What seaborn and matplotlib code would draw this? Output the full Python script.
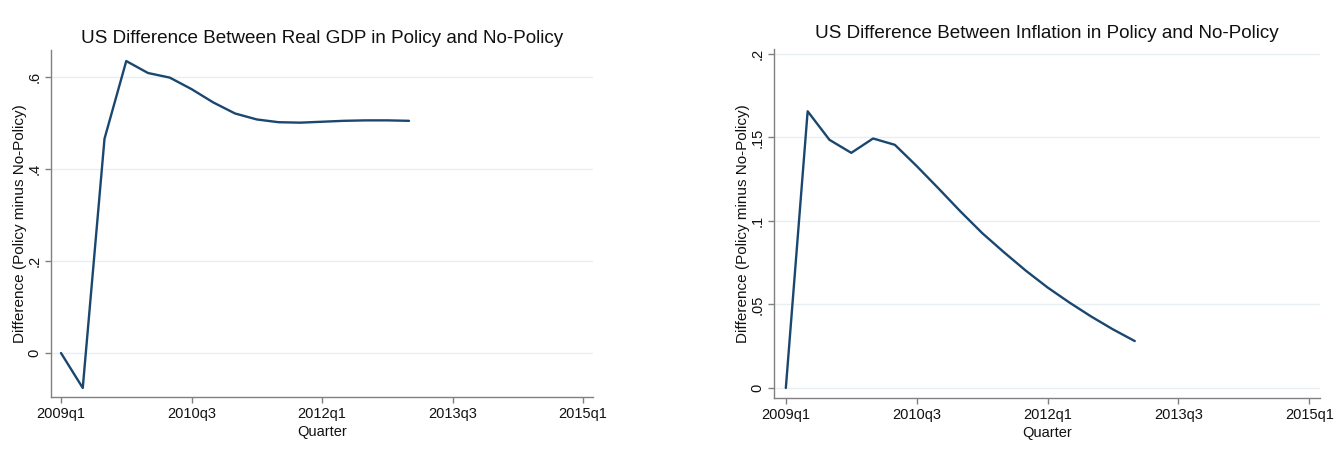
import numpy as np
import pandas as pd
import matplotlib
matplotlib.use("Agg")
import matplotlib.pyplot as plt
import seaborn as sns

# ---- data ----
quarter_index = list(range(17))  # 2009q1 .. 2013q1
gdp_diff = [0.0, -0.076, 0.466, 0.635, 0.609, 0.599, 0.574, 0.545, 0.521,
            0.508, 0.502, 0.501, 0.503, 0.505, 0.506, 0.506, 0.505]
infl_diff = [0.0, 0.1657, 0.1486, 0.1408, 0.1494, 0.1456, 0.1329, 0.1195, 0.1058,
             0.0928, 0.0813, 0.0703, 0.0602, 0.0512, 0.0428, 0.0351, 0.0281]
x_tick_pos = [0, 6, 12, 18, 24]
x_tick_labels = ["2009q1", "2010q3", "2012q1", "2013q3", "2015q1"]
gdp_yticks = [0, 0.2, 0.4, 0.6]
gdp_yticklabels = ["0", ".2", ".4", ".6"]
infl_yticks = [0, 0.05, 0.1, 0.15, 0.2]
infl_yticklabels = ["0", ".05", ".1", ".15", ".2"]
titles = ["US Difference Between Real GDP in Policy and No-Policy",
          "US Difference Between Inflation in Policy and No-Policy"]
ylabel = "Difference (Policy minus No-Policy)"
xlabel = "Quarter"

sns.set_style("white")
plt.rcParams['font.family'] = ['Liberation Sans', 'DejaVu Sans']
plt.rcParams['text.color'] = '#111111'
plt.rcParams['axes.labelcolor'] = '#111111'
plt.rcParams['xtick.color'] = '#111111'
plt.rcParams['ytick.color'] = '#111111'

fig = plt.figure(figsize=(13.42, 4.49), dpi=100)
ax1 = fig.add_axes([0.038, 0.1158, 0.4039, 0.7728])
ax2 = fig.add_axes([0.5768, 0.1136, 0.4069, 0.7773])

line_color = "#1a476f"
grid_color = "#e6eff1"
axis_color = "#808080"

configs = [
    (ax1, gdp_diff, gdp_yticks, gdp_yticklabels, (-0.0957, 0.659), (-0.46, 24.46), titles[0], 5),
    (ax2, infl_diff, infl_yticks, infl_yticklabels, (-0.006, 0.203), (-0.54, 24.5), titles[1], 8),
]

for ax, vals, yt, ytl, ylim, xlim, title, tpad in configs:
    df = pd.DataFrame({"q": quarter_index, "v": vals})
    for y in yt:
        ax.axhline(y, color=grid_color, lw=1.0, zorder=0)
    sns.lineplot(data=df, x="q", y="v", ax=ax, color=line_color, lw=1.7, zorder=3)
    ax.set_xlim(*xlim)
    ax.set_ylim(*ylim)
    ax.set_xticks(x_tick_pos)
    ax.set_xticklabels(x_tick_labels, fontsize=10.5)
    ax.set_yticks(yt)
    ax.set_yticklabels(ytl, fontsize=10.5, rotation=90, va="center")
    ax.set_xlabel(xlabel, fontsize=10.5, labelpad=3)
    ax.set_ylabel(ylabel, fontsize=11, labelpad=0)
    ax.set_title(title, fontsize=13.6, pad=tpad)
    for s in ["top", "right"]:
        ax.spines[s].set_visible(False)
    for s in ["left", "bottom"]:
        ax.spines[s].set_color(axis_color)
        ax.spines[s].set_linewidth(1.0)
    ax.tick_params(axis="both", which="major", direction="out", length=4,
                   width=1.0, color=axis_color, pad=3, bottom=True, left=True)
    ax.grid(False)

fig.savefig("out.png", dpi=100, facecolor="white")
